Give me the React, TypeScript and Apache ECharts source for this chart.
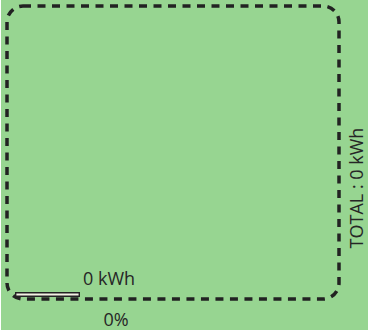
import React, { useEffect, useRef } from "react";
import * as echarts from "echarts";

const categories = ["Énergie"];
const energyValues = [0];
const percentValues = [0];
const totalValues = [0];
const unit = "kWh";

const FONT = "'Open Sans', sans-serif";
const OX = 1; // chart div offset from page left

export default function App() {
  const ref = useRef<HTMLDivElement>(null);
  useEffect(() => {
    document.body.style.margin = "0";
    const chart = echarts.init(ref.current!, null, { renderer: "svg" });
    chart.setOption({
      animation: false,
      backgroundColor: "#97d591",
      grid: { left: 15 - OX, width: 320, top: 288, height: 13 },
      xAxis: { type: "value", min: 0, max: 100, show: false },
      yAxis: { type: "category", data: categories, show: false },
      series: [
        {
          type: "bar",
          data: energyValues,
          barWidth: 5,
          barMinHeight: 65,
          z: 5,
          itemStyle: { color: "#f3f1e4", borderColor: "#222", borderWidth: 1.4 },
          label: {
            show: true,
            position: "right",
            distance: 3,
            offset: [0, -17],
            formatter: (p: any) => `${p.value} ${unit}`,
            fontSize: 18,
            color: "#262626",
            fontFamily: FONT,
          },
        },
      ],
      graphic: [
        {
          type: "rect",
          z: 1,
          shape: { x: 7 - OX, y: 6, width: 332, height: 293, r: 16 },
          style: { fill: "none", stroke: "#222", lineWidth: 3.5, lineDash: [8, 6.5] },
        },
        {
          type: "text",
          x: 116 - OX,
          y: 318.5,
          style: {
            text: `${percentValues[0]}%`,
            fontSize: 18,
            fontFamily: FONT,
            fill: "#262626",
            align: "center",
            verticalAlign: "middle",
          },
        },
        {
          type: "text",
          x: 355.5 - OX,
          y: 188,
          rotation: Math.PI / 2,
          style: {
            text: `TOTAL : ${totalValues[0]} ${unit}`,
            fontSize: 18,
            fontFamily: FONT,
            fill: "#262626",
            align: "center",
            verticalAlign: "middle",
          },
        },
      ],
    });
    return () => chart.dispose();
  }, []);
  return (
    <div
      ref={ref}
      style={{ position: "absolute", left: OX, top: 0, width: 368 - OX, height: 330 }}
    />
  );
}
